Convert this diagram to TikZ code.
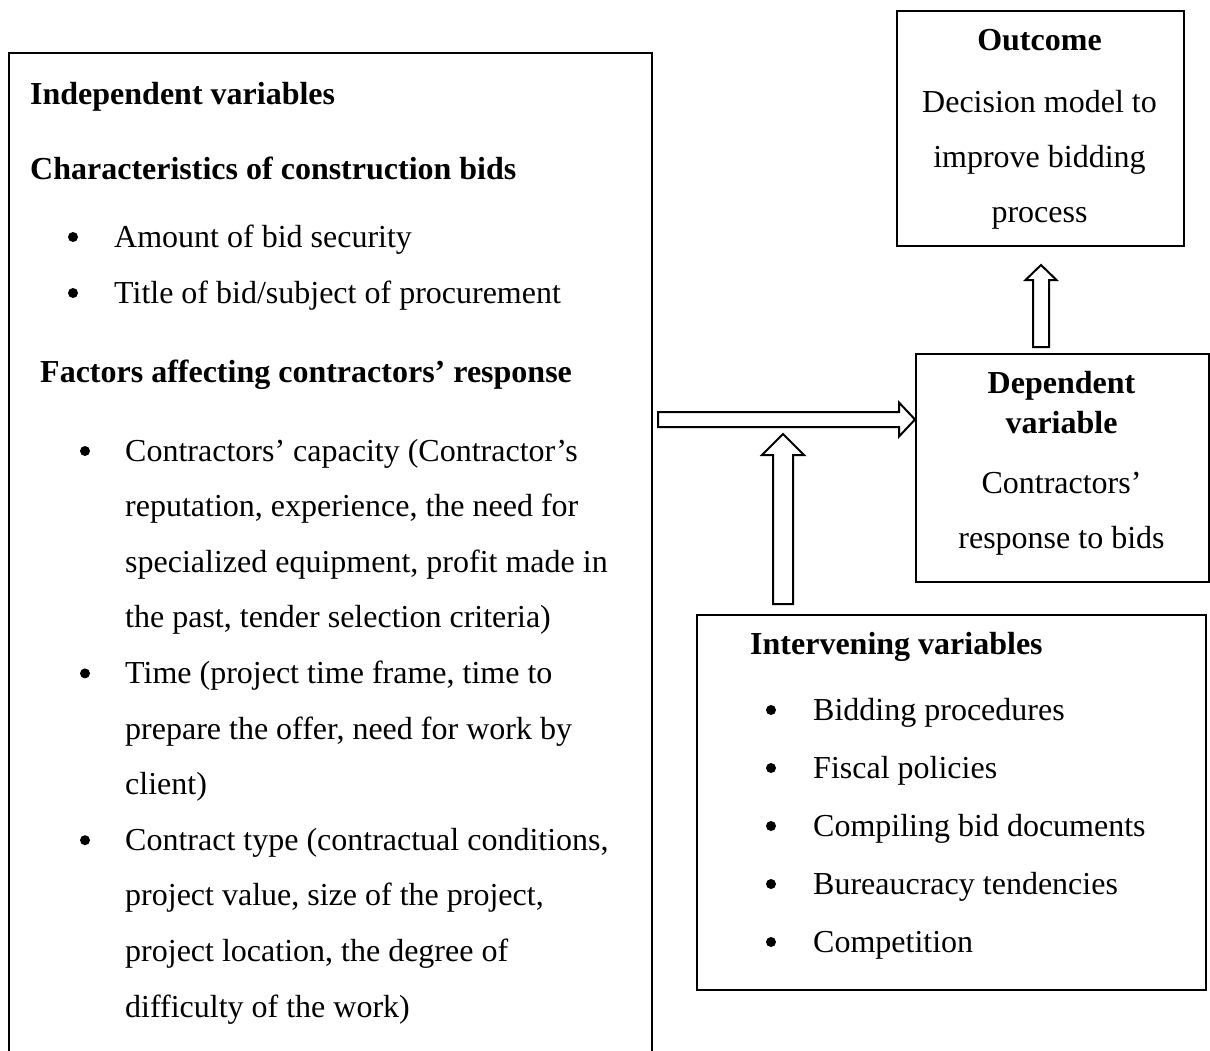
\documentclass[tikz,border=0pt]{standalone}
\usepackage{fontspec}
\setmainfont{Liberation Serif}
\usetikzlibrary{calc}
\begin{document}
\begin{tikzpicture}[x=1pt,y=-1pt,
  box/.style={draw, line width=2pt, inner sep=0pt, anchor=north west},
  txt/.style={anchor=base west, inner sep=0pt, font=\fontsize{32}{38}\selectfont},
  btxt/.style={txt, font=\fontsize{32}{38}\selectfont\bfseries},
  ctxt/.style={anchor=base, inner sep=0pt, font=\fontsize{32}{38}\selectfont},
  cbtxt/.style={ctxt, font=\fontsize{32}{38}\selectfont\bfseries},
  bul/.style={circle, fill=black, inner sep=0pt, minimum size=10pt},
  blockarrow/.style={draw, line width=2pt, fill=white, line join=miter}]
\clip (0,0) rectangle (1210,1050);
\fill[white] (0,0) rectangle (1210,1050);

% boxes
\node[box, minimum width=643pt, minimum height=1040pt] (indep) at (8,52) {};
\node[box, minimum width=287pt, minimum height=235pt] (outc) at (896,10) {};
\node[box, minimum width=293pt, minimum height=228pt] (dep) at (915,353) {};
\node[box, minimum width=509pt, minimum height=375pt] (interv) at (696,614) {};

% left box text
\node[btxt] (t1) at (30,104) {Independent variables};
\node[btxt] (t2) at (30,179) {Characteristics of construction bids};
\node[bul] (b1) at (73,237) {};
\node[txt] (t3) at (114,247) {Amount of bid security};
\node[bul] (b2) at (73,293) {};
\node[txt] (t4) at (114,303) {Title of bid/subject of procurement};
\node[btxt] (t5) at (40,382) {Factors affecting contractors’ response};
\node[bul] (b3) at (85,451) {};
\node[txt] (t6) at (125,461) {Contractors’ capacity (Contractor’s};
\node[txt] (t7) at (125,516.6) {reputation, experience, the need for};
\node[txt] (t8) at (125,572.2) {specialized equipment, profit made in};
\node[txt] (t9) at (125,627.8) {the past, tender selection criteria)};
\node[bul] (b4) at (85,673.4) {};
\node[txt] (t10) at (125,683.4) {Time (project time frame, time to};
\node[txt] (t11) at (125,739) {prepare the offer, need for work by};
\node[txt] (t12) at (125,794.6) {client)};
\node[bul] (b5) at (85,840.2) {};
\node[txt] (t13) at (125,850.2) {Contract type (contractual conditions,};
\node[txt] (t14) at (125,905.8) {project value, size of the project,};
\node[txt] (t15) at (125,961.4) {project location, the degree of};
\node[txt] (t16) at (125,1017) {difficulty of the work)};

% outcome text
\node[cbtxt] (o1) at (1039.5,50) {Outcome};
\node[ctxt] (o2) at (1039.5,112) {Decision model to};
\node[ctxt] (o3) at (1039.5,167) {improve bidding};
\node[ctxt] (o4) at (1039.5,222) {process};

% dependent text
\node[cbtxt] (d1) at (1061.5,393) {Dependent};
\node[cbtxt] (d2) at (1061.5,433) {variable};
\node[ctxt] (d3) at (1061.5,493) {Contractors’};
\node[ctxt] (d4) at (1061.5,548) {response to bids};

% intervening text
\node[btxt] (i0) at (750,654) {Intervening variables};
\node[bul] (ib1) at (771,710) {};
\node[txt] (i1) at (813,720) {Bidding procedures};
\node[bul] (ib2) at (771,768) {};
\node[txt] (i2) at (813,778) {Fiscal policies};
\node[bul] (ib3) at (771,826) {};
\node[txt] (i3) at (813,836) {Compiling bid documents};
\node[bul] (ib4) at (771,884) {};
\node[txt] (i4) at (813,894) {Bureaucracy tendencies};
\node[bul] (ib5) at (771,942) {};
\node[txt] (i5) at (813,952) {Competition};

% block arrows
\coordinate (hs) at ($(indep.east |- 0,419.5)+(5,0)$);
\coordinate (he) at (dep.west |- hs);
\draw[blockarrow] ($(hs)+(0,-7.5)$) -- ($(he)+(-16,-7.5)$) -- ($(he)+(-16,-17)$) -- (he)
  -- ($(he)+(-16,17)$) -- ($(he)+(-16,7.5)$) -- ($(hs)+(0,7.5)$) -- cycle;

\coordinate (vs) at (783,604);
\coordinate (ve) at (783,434);
\draw[blockarrow] ($(vs)+(-10,0)$) -- ($(ve)+(-10,21)$) -- ($(ve)+(-21,21)$) -- (ve)
  -- ($(ve)+(21,21)$) -- ($(ve)+(10,21)$) -- ($(vs)+(10,0)$) -- cycle;

\coordinate (us) at ($(dep.north -| 1041,0)+(0,-6)$);
\coordinate (ue) at ($(outc.south -| 1041,0)+(0,18)$);
\draw[blockarrow] ($(us)+(-8,0)$) -- ($(ue)+(-8,15)$) -- ($(ue)+(-15.5,15)$) -- (ue)
  -- ($(ue)+(15.5,15)$) -- ($(ue)+(8,15)$) -- ($(us)+(8,0)$) -- cycle;
\end{tikzpicture}
\end{document}
